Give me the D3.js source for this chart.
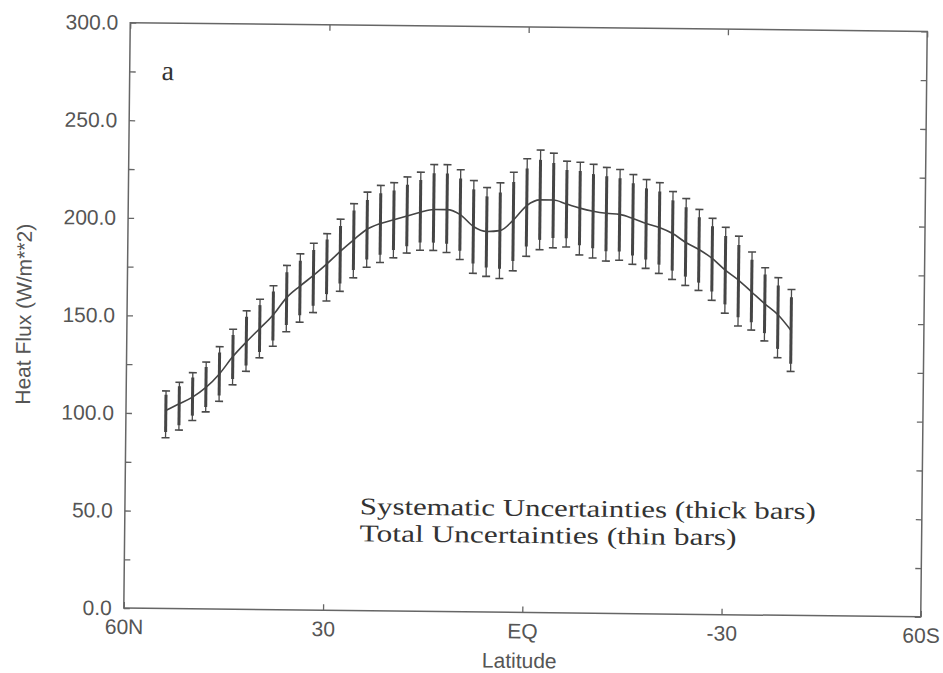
<!DOCTYPE html>
<html>
<head>
<meta charset="utf-8">
<script src="https://cdn.jsdelivr.net/npm/d3@7"></script>
<style>
  body { margin: 0; background: #fff; }
  svg { display: block; }
  .tick text { font-family: "Liberation Sans", Arial, sans-serif; font-size: 21px; fill: #555; }
  .tick line { stroke: #666; stroke-width: 1.3; }
  .axis-title { font-family: "Liberation Sans", Arial, sans-serif; font-size: 21px; fill: #555; }
  .serif { font-family: "Liberation Serif", "Times New Roman", serif; fill: #333; }
</style>
</head>
<body>
<div id="chart"></div>
<script>
// latitude of each bar (deg, + = north)
const latitudes = [54, 52, 50, 48, 46, 44, 42, 40, 38, 36, 34, 32, 30, 28, 26, 24,
  22, 20, 18, 16, 14, 12, 10, 8, 6, 4, 2, 0, -2, -4, -6, -8,
  -10, -12, -14, -16, -18, -20, -22, -24, -26, -28, -30, -32, -34, -36, -38, -40];

// zonal mean heat flux (W/m**2)
const fluxMean = [101.5, 105, 108.5, 113.5, 120.5, 129.5, 137, 144, 151, 160, 166, 171.5, 177.5, 184, 190, 195.5,
  198.5, 200.5, 202.5, 204.5, 206, 206, 203.5, 197.5, 195, 195.5, 201, 208.5, 211.5, 211.5, 209.5, 207.5,
  206, 205, 204.5, 202.5, 200, 198, 195, 190.5, 187, 182.5, 176.5, 171.5, 165.5, 159.5, 154, 146];

// total uncertainty range (thin bars)
const totalHigh = [111.5, 116, 121, 126.5, 134.5, 143.5, 153, 159, 166, 176.5, 182.5, 188, 193, 200.5, 208.5, 214.5,
  218, 219.5, 222.5, 225, 229, 229, 226.5, 221, 217.5, 220, 225.5, 232.5, 237, 235.5, 231.5, 231,
  230, 228.5, 227.5, 225, 222.5, 221, 216.5, 213, 207.5, 203, 198.5, 194, 186, 178, 173, 167];
const totalLow = [87.5, 91.5, 96.5, 101, 106.5, 115, 122, 129, 135, 142.5, 147.5, 152.5, 158.5, 163.5, 170.5, 176,
  178.5, 181, 183.5, 185, 185, 184, 180.5, 173.5, 172, 171, 175, 182.5, 186, 187, 187.5, 183.5,
  182, 180.5, 181, 179, 177, 174.5, 171.5, 168.5, 166, 161, 154.5, 148, 146, 140.5, 132, 125];

// systematic uncertainty range (thick bars)
const sysHigh = [109.5, 114, 118.5, 124, 131.5, 140.5, 150, 156, 163, 173, 179, 184.5, 190, 197, 205, 210.5,
  214, 215.5, 218.5, 221, 224.5, 224.5, 222, 216.5, 213, 215, 220.5, 227.5, 232, 230.5, 227, 226.5,
  225, 224, 223, 220.5, 218, 216.5, 212, 208.5, 203.5, 199, 194, 189.5, 182, 174.5, 169, 163];
const sysLow = [90.5, 94, 99, 103.5, 109.5, 118, 125, 132, 138, 146, 151, 156, 162, 167.5, 174.5, 180,
  182.5, 185, 187, 189, 189, 188.5, 185, 178.5, 176.5, 176, 180, 187.5, 191, 192, 192, 188.5,
  187, 185.5, 185.5, 183.5, 181.5, 179, 176, 173, 170, 165.5, 159, 152.5, 150, 144.5, 136.5, 129];

const xTickValues = [60, 30, 0, -30, -60];
const xTickLabels = ['60N', '30', 'EQ', '-30', '60S'];
const yTickValues = [0, 25, 50, 75, 100, 125, 150, 175, 200, 225, 250, 275, 300];
const legendLines = ['Systematic Uncertainties (thick bars)', 'Total Uncertainties (thin bars)'];
const panelLabel = 'a';

const width = 943, height = 673;
const plot = { left: 127, right: 924, top: 27, bottom: 612.5 };
const cx = (plot.left + plot.right) / 2, cy = (plot.top + plot.bottom) / 2;

const data = latitudes.map((lat, i) => ({
  lat, mean: fluxMean[i],
  tHi: totalHigh[i], tLo: totalLow[i],
  sHi: sysHigh[i], sLo: sysLow[i]
}));

const svg = d3.select('#chart').append('svg')
  .attr('width', width)
  .attr('height', height);

// the scanned page is slightly tilted
const g = svg.append('g')
  .attr('transform', `rotate(0.63, ${cx}, ${cy})`);

const x = d3.scaleLinear().domain([60, -60]).range([plot.left, plot.right]);
const y = d3.scaleLinear().domain([0, 300]).range([plot.bottom, plot.top]);

// axes, ticks pointing inward
const fmtY = d => (d % 50 === 0 ? d.toFixed(1) : '');
g.append('g')
  .attr('transform', `translate(${plot.left},0)`)
  .call(d3.axisLeft(y).tickValues(yTickValues).tickSize(-6).tickPadding(12).tickFormat(fmtY))
  .call(a => a.select('.domain').remove());
g.append('g')
  .attr('transform', `translate(${plot.right},0)`)
  .call(d3.axisRight(y).tickValues(yTickValues).tickSize(-6).tickFormat(''))
  .call(a => a.select('.domain').remove());
g.append('g')
  .attr('transform', `translate(0,${plot.bottom})`)
  .call(d3.axisBottom(x).tickValues(xTickValues).tickSize(-6).tickPadding(11)
    .tickFormat((d, i) => xTickLabels[i]))
  .call(a => a.select('.domain').remove());
g.append('g')
  .attr('transform', `translate(0,${plot.top})`)
  .call(d3.axisTop(x).tickValues(xTickValues).tickSize(-6).tickFormat(''))
  .call(a => a.select('.domain').remove());

g.append('rect')
  .attr('x', plot.left).attr('y', plot.top)
  .attr('width', plot.right - plot.left)
  .attr('height', plot.bottom - plot.top)
  .attr('fill', 'none')
  .attr('stroke', '#666')
  .attr('stroke-width', 1.5);

// thin bars (total uncertainty)
const thin = g.append('g').attr('stroke', '#4a4a4a');
thin.selectAll('.thin')
  .data(data)
  .join('line')
    .attr('class', 'thin')
    .attr('x1', d => x(d.lat)).attr('x2', d => x(d.lat))
    .attr('y1', d => y(d.tLo)).attr('y2', d => y(d.tHi))
    .attr('stroke-width', 1.3);
thin.selectAll('.cap')
  .data(data.flatMap(d => [{ lat: d.lat, v: d.tHi }, { lat: d.lat, v: d.tLo }]))
  .join('line')
    .attr('class', 'cap')
    .attr('x1', d => x(d.lat) - 4).attr('x2', d => x(d.lat) + 4)
    .attr('y1', d => y(d.v)).attr('y2', d => y(d.v))
    .attr('stroke-width', 1.6);

// thick bars (systematic uncertainty)
g.append('g').selectAll('line')
  .data(data)
  .join('line')
    .attr('x1', d => x(d.lat)).attr('x2', d => x(d.lat))
    .attr('y1', d => y(d.sLo)).attr('y2', d => y(d.sHi))
    .attr('stroke', '#454545')
    .attr('stroke-width', 3);

// mean curve
g.append('path')
  .datum(data)
  .attr('fill', 'none')
  .attr('stroke', '#444')
  .attr('stroke-width', 1.6)
  .attr('d', d3.line().x(d => x(d.lat)).y(d => y(d.mean)).curve(d3.curveMonotoneX));

// titles
g.append('text')
  .attr('class', 'axis-title')
  .attr('transform', `translate(31,${cy}) rotate(-90)`)
  .attr('text-anchor', 'middle')
  .text('Heat Flux (W/m**2)');
g.append('text')
  .attr('class', 'axis-title')
  .attr('x', 523).attr('y', 668)
  .attr('text-anchor', 'middle')
  .text('Latitude');

g.append('text')
  .attr('class', 'serif')
  .attr('x', 159).attr('y', 84)
  .attr('font-size', 28)
  .text(panelLabel);

const legendWidths = [456, 377];
g.selectAll('.legend')
  .data(legendLines)
  .join('text')
    .attr('class', 'serif legend')
    .attr('x', 362)
    .attr('y', (d, i) => 516 + i * 27)
    .attr('font-size', 24)
    .attr('textLength', (d, i) => legendWidths[i])
    .attr('lengthAdjust', 'spacingAndGlyphs')
    .text(d => d);
</script>
</body>
</html>
